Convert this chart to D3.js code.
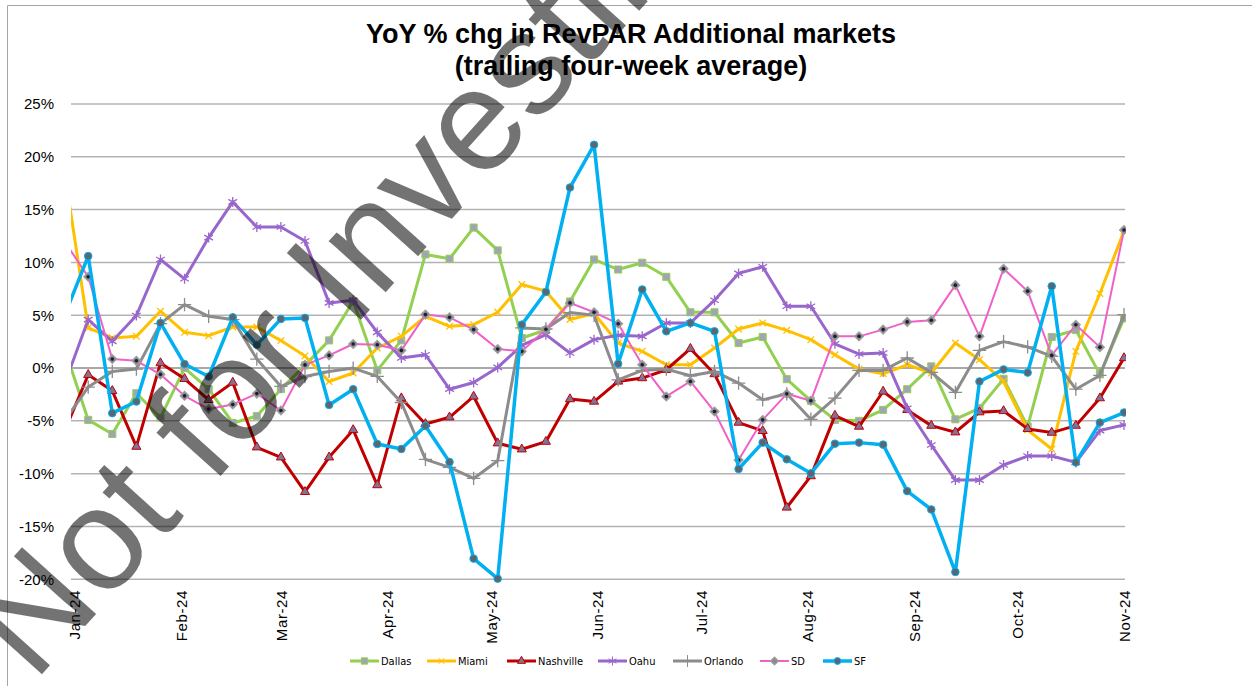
<!DOCTYPE html>
<html>
<head>
<meta charset="utf-8">
<script src="https://cdn.jsdelivr.net/npm/d3@7"></script>
<style>
  body { margin: 0; background: #fff; }
  svg { display: block; font-family: "Liberation Sans", Arial, sans-serif; }
</style>
</head>
<body>
<svg id="chart" width="1252" height="686"></svg>
<script>
// Week-ending dates (first week sits just left of the axis and is clipped)
var weeks = ["2023-12-29", "2024-01-05", "2024-01-12", "2024-01-19", "2024-01-26",
  "2024-02-02", "2024-02-09", "2024-02-16", "2024-02-23", "2024-03-01", "2024-03-08",
  "2024-03-15", "2024-03-22", "2024-03-29", "2024-04-05", "2024-04-12", "2024-04-19",
  "2024-04-26", "2024-05-03", "2024-05-10", "2024-05-17", "2024-05-24", "2024-05-31",
  "2024-06-07", "2024-06-14", "2024-06-21", "2024-06-28", "2024-07-05", "2024-07-12",
  "2024-07-19", "2024-07-26", "2024-08-02", "2024-08-09", "2024-08-16", "2024-08-23",
  "2024-08-30", "2024-09-06", "2024-09-13", "2024-09-20", "2024-09-27", "2024-10-04",
  "2024-10-11", "2024-10-18", "2024-10-25", "2024-11-01"];

var dallas = [1.97, -4.91, -6.24, -2.38, -4.7, 0.0, -2.0, -5.2, -4.55, -2.0, 0.25, 2.62, 6.32,
  -0.22, 2.62, 10.76, 10.35, 13.3, 11.14, 2.85, 3.6, 6.3, 10.28, 9.33, 9.97, 8.64, 5.28, 5.28,
  2.37, 2.94, -1.05, -3.1, -4.91, -5.0, -3.96, -2.0, 0.16, -4.85, -3.8, -1.02, -5.54, 2.94,
  3.6, -0.6, 4.7];
var miami = [18.87, 3.8, 2.85, 3.0, 5.38, 3.38, 3.07, 3.89, 3.89, 2.6, 1.15, -1.27, -0.47, 1.9,
  3.0, 4.9, 3.95, 4.11, 5.28, 7.91, 7.28, 4.6, 5.16, 2.37, 1.58, 0.31, 0.31, 1.9, 3.7, 4.27,
  3.57, 2.69, 1.26, -0.1, -0.54, 0.31, -0.47, 2.37, 0.79, -1.27, -5.86, -7.66, 1.58, 7.06, 12.97];
var nashville = [-6.09, -0.64, -2.16, -7.44, 0.47, -1.02, -3.01, -1.37, -7.5, -8.45, -11.72,
  -8.45, -5.86, -11.08, -2.85, -5.29, -4.66, -2.69, -7.12, -7.69, -6.97, -2.94, -3.17, -1.27,
  -0.95, -0.16, 1.83, -0.57, -5.16, -5.95, -13.2, -10.23, -4.5, -5.54, -2.22, -3.96, -5.45,
  -6.08, -4.18, -4.06, -5.76, -6.11, -5.45, -2.85, 0.95];
var oahu = [-1.63, 4.59, 2.53, 4.97, 10.28, 8.45, 12.35, 15.73, 13.36, 13.36, 12.03, 6.17, 6.42,
  3.38, 0.95, 1.26, -2.0, -1.37, 0.06, 2.15, 3.16, 1.42, 2.69, 3.1, 3.0, 4.27, 4.27, 6.42, 8.96,
  9.59, 5.85, 5.85, 2.3, 1.33, 1.42, -3.8, -7.28, -10.61, -10.61, -9.18, -8.33, -8.33, -8.93,
  -5.92, -5.38];
var orlando = [-5.05, -1.8, -0.32, -0.1, 4.2, 6.0, 4.9, 4.59, 0.85, -1.74, -0.8, -0.32, 0.0,
  -0.79, -3.26, -8.64, -9.4, -10.45, -8.77, 3.8, 3.7, 5.25, 5.0, -1.11, -0.22, -0.1, -0.73,
  -0.32, -1.42, -3.01, -2.44, -4.85, -2.85, -0.22, -0.22, 0.95, -0.41, -2.31, 1.67, 2.5, 2.0,
  1.1, -2.0, -0.7, 5.06];
var sd = [12.04, 8.64, 0.85, 0.69, -0.6, -2.63, -3.88, -3.45, -2.42, -4.02, 0.3, 1.2, 2.28, 2.21,
  1.67, 5.06, 4.8, 3.64, 1.8, 1.58, 3.67, 6.17, 5.28, 4.2, 0.31, -2.69, -1.27, -4.12, -8.71,
  -4.91, -2.44, -3.1, 3.0, 3.0, 3.64, 4.37, 4.52, 7.85, 3.0, 9.4, 7.28, 1.2, 4.1, 1.98, 13.07];
var sf = [4.89, 10.6, -4.27, -3.17, 4.27, 0.38, -0.8, 4.8, 2.2, 4.65, 4.75, -3.49, -2.0, -7.19,
  -7.66, -5.48, -8.9, -18.04, -19.94, 4.11, 7.2, 17.09, 21.14, 0.4, 7.44, 3.48, 4.27, 3.48,
  -9.56, -7.06, -8.64, -9.97, -7.16, -7.06, -7.25, -11.65, -13.39, -19.31, -1.27, -0.13, -0.43,
  7.75, -8.93, -5.16, -4.21];

var seriesNames = ["Dallas", "Miami", "Nashville", "Oahu", "Orlando", "SD", "SF"];
var yTicks = [-20, -15, -10, -5, 0, 5, 10, 15, 20, 25];
var chartTitle = ["YoY % chg in RevPAR Additional markets", "(trailing four-week average)"];
var watermark = "Not for Investing";

var parseDate = d3.timeParse("%Y-%m-%d");
var dates = weeks.map(parseDate);

// rot: extra marker rotation (SD diamond is a square turned 45 degrees)
var series = [
  { name: "Dallas", values: dallas, color: "#92D050", width: 3, sym: d3.symbolSquare, size: 50, rot: 0, fill: "#A3A3B8", stroke: "#92D050" },
  { name: "Miami", values: miami, color: "#FFC000", width: 3, sym: d3.symbolTimes, size: 30, rot: 0, fill: "none", stroke: "#FFC000" },
  { name: "Nashville", values: nashville, color: "#C00000", width: 3, sym: d3.symbolTriangle, size: 36, rot: 0, fill: "#7F7397", stroke: "#C00000" },
  { name: "Oahu", values: oahu, color: "#9966CC", width: 3, sym: d3.symbolAsterisk, size: 70, rot: 0, fill: "none", stroke: "#9966CC" },
  { name: "Orlando", values: orlando, color: "#8C8C8C", width: 3, sym: d3.symbolPlus, size: 60, rot: 0, fill: "none", stroke: "#8C8C8C" },
  { name: "SD", values: sd, color: "#F060C8", width: 2, sym: d3.symbolSquare, size: 42, rot: 45, fill: "#8C8C8C", stroke: "#A0A0A0" },
  { name: "SF", values: sf, color: "#00B0F0", width: 3.5, sym: d3.symbolCircle, size: 45, rot: 0, fill: "#5B6670", stroke: "#00B0F0" }
];

var svg = d3.select("#chart");

var x = d3.scaleTime()
  .domain([new Date(2023, 11, 31), new Date(2024, 10, 1)])
  .range([71, 1124]);
var y = d3.scaleLinear()
  .domain([-20, 25])
  .range([579.3, 104]);

// Chart area border (left and top edges visible)
svg.append("path")
  .attr("d", "M7.5,686V5.5H1252")
  .attr("fill", "none")
  .attr("stroke", "#A6A6A6")
  .attr("stroke-width", 1);

// Title
svg.append("text")
  .attr("x", 631)
  .attr("y", 43)
  .attr("text-anchor", "middle")
  .attr("font-size", 27)
  .attr("font-weight", "bold")
  .selectAll("tspan")
  .data(chartTitle)
  .enter().append("tspan")
  .attr("x", 631)
  .attr("dy", (d, i) => i === 0 ? 0 : 32)
  .text(d => d);

// Gridlines
svg.append("g")
  .selectAll("line")
  .data(yTicks)
  .enter().append("line")
  .attr("x1", 71).attr("x2", 1125)
  .attr("y1", d => y(d)).attr("y2", d => y(d))
  .attr("stroke", d => d === 0 ? "#8C8C8C" : "#B3B3B3")
  .attr("stroke-width", 1.5);

// Y axis labels
var yAxis = d3.axisLeft(y)
  .tickValues(yTicks)
  .tickSize(0)
  .tickPadding(0)
  .tickFormat(d => d + "%");
svg.append("g")
  .attr("transform", "translate(54,0)")
  .call(yAxis)
  .call(g => g.select(".domain").remove())
  .selectAll("text")
  .attr("font-family", "'Liberation Sans', Arial, sans-serif")
  .attr("font-size", 15)
  .attr("fill", "#000");

// X axis labels (rotated)
var monthTicks = d3.timeMonth.range(new Date(2024, 0, 1), new Date(2024, 10, 2));
var xAxis = d3.axisBottom(x)
  .tickValues(monthTicks)
  .tickSize(0)
  .tickFormat(d3.timeFormat("%b-%y"));
svg.append("g")
  .attr("transform", "translate(0,579)")
  .call(xAxis)
  .call(g => g.select(".domain").remove())
  .selectAll("text")
  .attr("font-family", "'Liberation Sans', Arial, sans-serif")
  .attr("font-size", 15)
  .attr("letter-spacing", 0.6)
  .attr("fill", "#000")
  .attr("text-anchor", "end")
  .attr("transform", "rotate(-90)")
  .attr("x", -11)
  .attr("y", 0)
  .attr("dy", "0.36em");

// Plot clip
svg.append("clipPath").attr("id", "plotClip")
  .append("rect")
  .attr("x", 71).attr("y", 90)
  .attr("width", 1055).attr("height", 500);

var line = d3.line()
  .x((d, i) => x(dates[i]))
  .y(d => y(d));

var plot = svg.append("g").attr("clip-path", "url(#plotClip)");

series.forEach(function (s) {
  var g = plot.append("g");
  g.append("path")
    .attr("d", line(s.values))
    .attr("fill", "none")
    .attr("stroke", s.color)
    .attr("stroke-width", s.width)
    .attr("stroke-linejoin", "round");

  var sym = d3.symbol().type(s.sym).size(s.size);
  g.selectAll("path.marker")
    .data(s.values)
    .enter().append("path")
    .attr("class", "marker")
    .attr("d", sym)
    .attr("transform", (d, i) => "translate(" + x(dates[i]) + "," + y(d) + ") rotate(" + s.rot + ")")
    .attr("fill", s.fill)
    .attr("stroke", s.stroke)
    .attr("stroke-width", s.fill === "none" ? 1.3 : 1);

  if (s.name === "SD") {
    g.selectAll("circle.dot")
      .data(s.values)
      .enter().append("circle")
      .attr("class", "dot")
      .attr("cx", (d, i) => x(dates[i]))
      .attr("cy", d => y(d))
      .attr("r", 1.8)
      .attr("fill", "#1E1A3C");
  }
});

// Legend
var legendX = [350, 427, 507, 598, 673, 760, 823];
var legend = svg.append("g").attr("transform", "translate(0,661)");
series.forEach(function (s, i) {
  var lg = legend.append("g").attr("transform", "translate(" + legendX[i] + ",0)");
  lg.append("line")
    .attr("x1", 0).attr("x2", 29)
    .attr("y1", 0).attr("y2", 0)
    .attr("stroke", s.color)
    .attr("stroke-width", s.width);
  lg.append("path")
    .attr("d", d3.symbol().type(s.sym).size(s.size * 0.8))
    .attr("transform", "translate(14.5,0) rotate(" + s.rot + ")")
    .attr("fill", s.fill)
    .attr("stroke", s.stroke)
    .attr("stroke-width", 1);
  lg.append("text")
    .attr("x", 31)
    .attr("y", 0)
    .attr("dy", "0.35em")
    .attr("font-family", "'Liberation Sans Narrow', 'DejaVu Sans Condensed', sans-serif")
    .attr("font-size", 11)
    .text(s.name);
});

// Watermark over everything
svg.append("text")
  .attr("transform", "translate(34,683) rotate(-48)")
  .attr("font-family", "'Liberation Sans', Arial, sans-serif")
  .attr("font-size", 145)
  .attr("fill", "#000")
  .attr("fill-opacity", 0.55)
  .text(watermark);
</script>
</body>
</html>
